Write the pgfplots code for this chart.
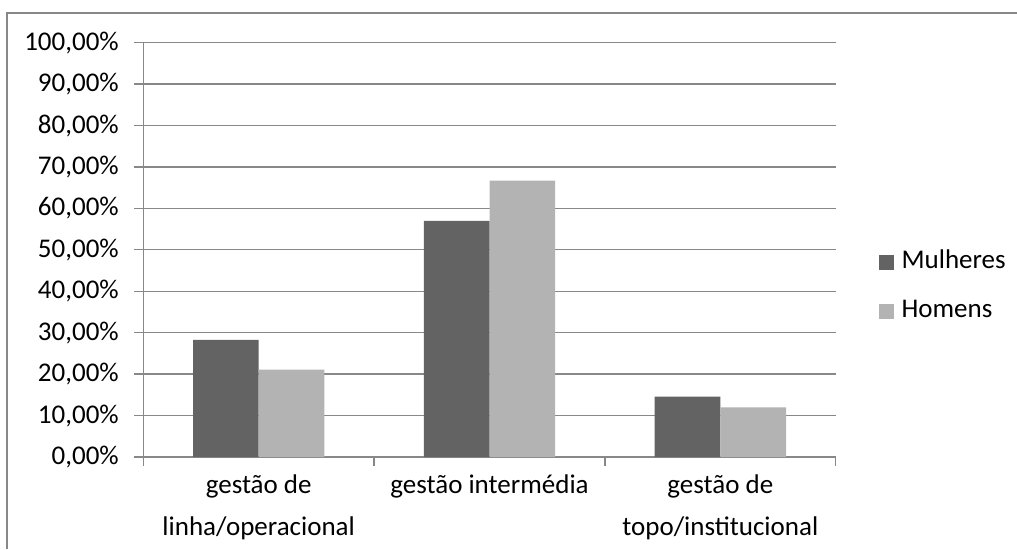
\documentclass[border=0pt]{standalone}
\usepackage{fontspec}
\setmainfont{Carlito}
\usepackage{pgfplots}
\pgfplotsset{compat=1.18}
\definecolor{darkbar}{HTML}{636363}
\definecolor{lightbar}{HTML}{B3B3B3}
\definecolor{gridc}{HTML}{888888}
\begin{document}
\begin{tikzpicture}[x=1pt,y=1pt]
\useasboundingbox (0,0) rectangle (1017,549);
\fill[white] (0,0) rectangle (1017,549);
\draw[gridc, line width=2pt] (7,0) -- (7,536) -- (1017,536);
\begin{axis}[
  at={(143.3pt,92pt)}, anchor=south west,
  scale only axis, width=692.4pt, height=414.3pt,
  ybar=0pt, bar width=65.7pt,
  xmin=-0.5, xmax=2.5, ymin=0, ymax=100,
  axis x line*=bottom, axis y line*=left,
  axis line style={gridc, line width=1.3pt},
  xtick={0,1,2},
  xticklabels={{gestão de\\linha/operacional},{gestão intermédia},{gestão de\\topo/institucional}},
  minor xtick={-0.5,0.5,1.5,2.5},
  major x tick style={draw=none},
  minor x tick style={gridc, line width=1.3pt},
  ytick={0,10,...,100},
  yticklabels={0{,}00\%,10{,}00\%,20{,}00\%,30{,}00\%,40{,}00\%,50{,}00\%,60{,}00\%,70{,}00\%,80{,}00\%,90{,}00\%,100{,}00\%},
  y tick style={gridc, line width=1.3pt},
  tick align=outside, major tick length=9pt, minor tick length=9pt,
  ymajorgrids, major grid style={gridc, line width=1.3pt},
  ticklabel style={font=\fontsize{27}{42}\selectfont, text=black},
  xticklabel style={align=center, yshift=-5pt},
  yticklabel style={xshift=-12pt},
  legend style={draw=none, fill=none, at={(1,0.41)}, anchor=west, xshift=40pt,
    font=\fontsize{27}{32}\selectfont, row sep=25pt,
    nodes={inner sep=0pt, text height=18pt, text depth=6pt}},
  legend image code/.code={\fill[#1] (0pt,-7.3pt) rectangle (14.7pt,7.3pt);},
  legend cell align=left,
  /tikz/every odd column/.append style={column sep=8pt},
]
\addplot[fill=darkbar, draw=none] coordinates {(0,28.3) (1,57.0) (2,14.6)};
\addplot[fill=lightbar, draw=none] coordinates {(0,21.1) (1,66.7) (2,12.0)};
\legend{Mulheres,Homens}
\end{axis}
\end{tikzpicture}
\end{document}
